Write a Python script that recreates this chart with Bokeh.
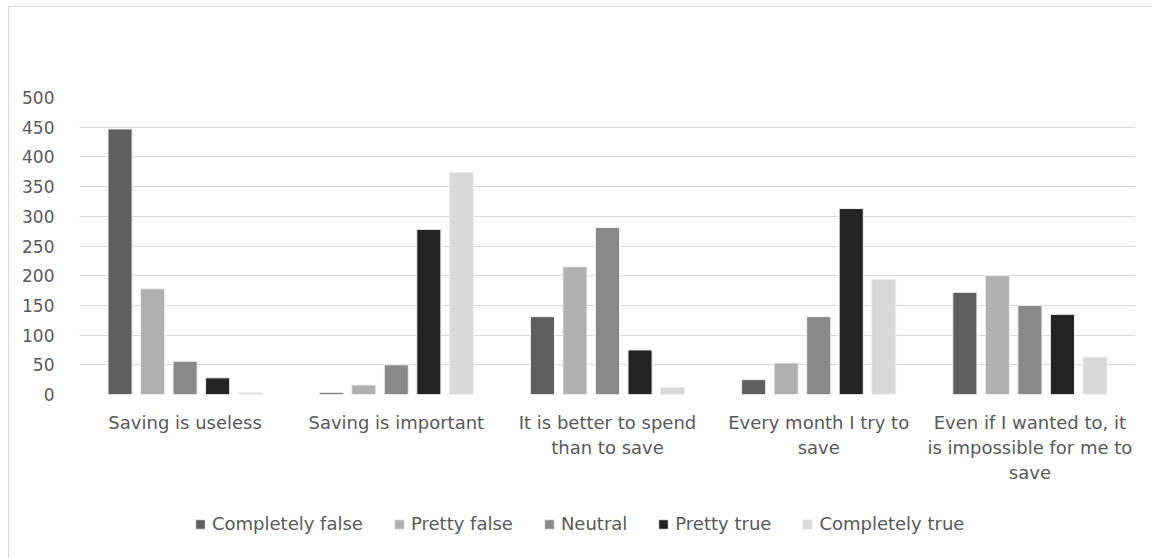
from bokeh.plotting import figure
from bokeh.layouts import column
from bokeh.models import Range1d, FixedTicker, Legend, LegendItem
from bokeh.embed import file_html
from bokeh.resources import INLINE

categories = [
    "Saving is useless",
    "Saving is important",
    "It is better to spend\nthan to save",
    "Every month I try to\nsave",
    "Even if I wanted to, it\nis impossible for me to\nsave",
]
series_names = ["Completely false", "Pretty false", "Neutral", "Pretty true", "Completely true"]
completely_false = [447, 3, 131, 25, 172]
pretty_false = [178, 16, 215, 53, 200]
neutral = [56, 50, 281, 131, 150]
pretty_true = [28, 278, 75, 313, 135]
completely_true = [3, 374, 12, 194, 63]
colors = ["#5f5f5f", "#b0b0b0", "#898989", "#232323", "#d9d9d9"]
y_ticks = [0, 50, 100, 150, 200, 250, 300, 350, 400, 450, 500]

series_values = [completely_false, pretty_false, neutral, pretty_true, completely_true]

FONT = "DejaVu Sans"
TXT = "#595959"
EDGE = "#f0f0f0"

p = figure(width=1143, height=493, output_backend="svg", toolbar_location=None,
           x_range=Range1d(0, 5), y_range=Range1d(0, 500),
           min_border_left=70, min_border_right=17, min_border_top=90, min_border_bottom=106)
p.outline_line_color = None
p.background_fill_color = "white"
p.border_fill_color = "white"

# legend strip below the chart; its view range is away from the bars, so only swatches show
lf = figure(width=1143, height=58, output_backend="svg", toolbar_location=None,
            x_axis_type=None, y_axis_type=None,
            x_range=Range1d(100, 101), y_range=Range1d(1000, 1001),
            min_border=0, min_border_left=70, min_border_right=17)
lf.outline_line_color = None
lf.background_fill_color = "white"
lf.border_fill_color = "white"
lf.grid.visible = False

step = 0.154
bw = 0.114
items = []
for j, (name, vals, c) in enumerate(zip(series_names, series_values, colors)):
    xs = [i + 0.5 + (j - 2) * step for i in range(len(categories))]
    p.vbar(x=xs, top=vals, bottom=0, width=bw, fill_color=c,
           line_color=EDGE, line_width=1)
    r = lf.vbar(x=xs, top=vals, bottom=0, width=bw, fill_color=c,
                line_color=EDGE, line_width=1)
    items.append(LegendItem(label=name, renderers=[r]))

p.xgrid.grid_line_color = None
p.ygrid.grid_line_color = "#d9d9d9"
p.ygrid.grid_line_width = 1
p.yaxis.ticker = FixedTicker(ticks=y_ticks)
p.xaxis.ticker = FixedTicker(ticks=[i + 0.5 for i in range(len(categories))])
p.xaxis.major_label_overrides = {i + 0.5: lab for i, lab in enumerate(categories)}

for ax in (p.xaxis[0], p.yaxis[0]):
    ax.axis_line_color = None
    ax.major_tick_line_color = None
    ax.minor_tick_line_color = None
    ax.major_label_text_font = FONT
    ax.major_label_text_color = TXT
p.yaxis.major_label_text_font_size = "17px"
p.xaxis.major_label_text_font_size = "18px"
p.yaxis.major_label_standoff = 19
p.xaxis.major_label_standoff = 11

legend = Legend(items=items, orientation="horizontal", location=(115, 24),
                glyph_width=12, glyph_height=12, label_standoff=6, spacing=30,
                padding=0, margin=0, border_line_color=None, background_fill_alpha=0,
                label_text_font=FONT, label_text_color=TXT, label_text_font_size="18px")
lf.add_layout(legend, "center")

layout = column(p, lf)
layout.styles = {"margin-left": "8px", "margin-top": "6px",
                 "border-left": "1px solid #d9d9d9", "border-top": "1px solid #d9d9d9"}

open("out.html", "w").write(file_html(layout, INLINE))
